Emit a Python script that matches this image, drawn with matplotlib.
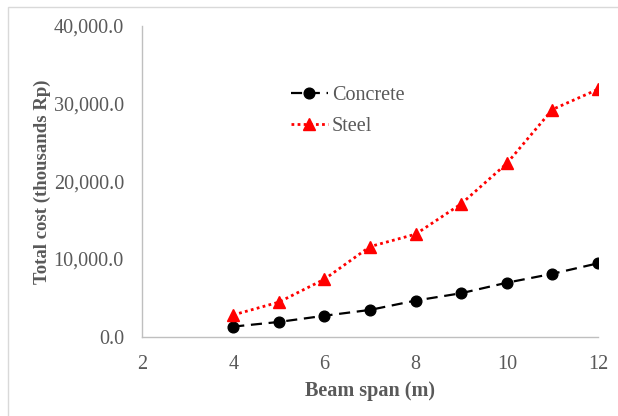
import matplotlib
matplotlib.use("Agg")
import matplotlib.pyplot as plt
from matplotlib.ticker import FuncFormatter
from matplotlib.patches import Rectangle

# beam span (m)
span = [4, 5, 6, 7, 8, 9, 10, 11, 12]
# total cost (thousands Rp)
concrete = [1300, 1900, 2700, 3450, 4650, 5600, 6950, 8100, 9450]
steel = [2800, 4450, 7400, 11600, 13200, 17100, 22300, 29250, 31850]

x_ticks = [2, 4, 6, 8, 10, 12]
y_ticks = [0, 10000, 20000, 30000, 40000]

plt.rcParams["font.family"] = ["Liberation Serif", "DejaVu Serif"]
text_grey = "#595959"
axis_grey = "#BFBFBF"

fig = plt.figure(figsize=(6.18, 4.16), dpi=100)
ax = fig.add_axes([0.2298, 0.1906, 0.7378, 0.7469])

# light outline around the chart area, like an exported Excel chart
fig.patches.append(Rectangle((8 / 618, -0.05), 1.2, 1 - 7 / 416 + 0.05,
                             transform=fig.transFigure, fill=False,
                             edgecolor="#D9D9D9", linewidth=1.0))

ax.plot(span, concrete, color="black", linestyle=(0, (5, 3)), linewidth=1.6,
        marker="o", markersize=7.7, label="Concrete")
ax.plot(span, steel, color="#FF0000", linestyle=(0, (1, 1.2)), linewidth=2.0,
        marker="^", markersize=8.5, label="Steel")

ax.set_xlim(2, 12)
ax.set_ylim(0, 40000)
ax.set_xticks(x_ticks)
ax.set_yticks(y_ticks)
ax.yaxis.set_major_formatter(FuncFormatter(lambda v, p: f"{v:,.1f}"))

for side in ["top", "right"]:
    ax.spines[side].set_visible(False)
for side in ["left", "bottom"]:
    ax.spines[side].set_color(axis_grey)
    ax.spines[side].set_linewidth(1.0)

ax.tick_params(axis="both", length=0, labelsize=14.5, labelcolor=text_grey)
ax.tick_params(axis="x", pad=13)
ax.tick_params(axis="y", pad=13)

ax.set_xlabel("Beam span (m)", fontsize=14.5, fontweight="bold", color=text_grey,
              labelpad=5)
ax.set_ylabel("Total cost (thousands Rp)", fontsize=13.5, fontweight="bold",
              color=text_grey, labelpad=2)

leg = ax.legend(loc="upper left", bbox_to_anchor=(0.326, 0.807), frameon=False,
                borderaxespad=0, borderpad=0, fontsize=14.5, handlelength=1.85,
                handletextpad=0.2, labelspacing=0.6)
for t in leg.get_texts():
    t.set_color(text_grey)

fig.savefig("out.png", dpi=100)
